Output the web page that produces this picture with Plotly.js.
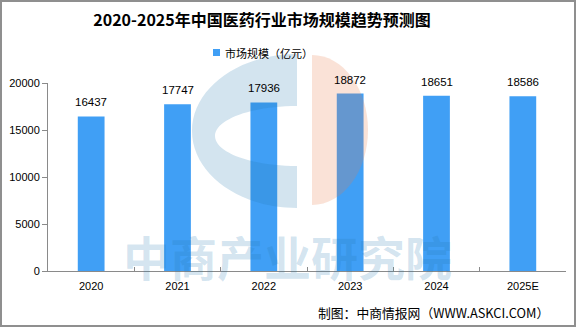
<!DOCTYPE html>
<html>
<head>
<meta charset="utf-8">
<script src="https://cdn.plot.ly/plotly-3.0.1.min.js"></script>
<style>
html,body{margin:0;padding:0;background:#fff;}
#wrap{position:relative;width:576px;height:327px;}
#chart{width:576px;height:327px;}
#frame{position:absolute;left:0;top:0;width:576px;height:327px;box-sizing:border-box;border:2px solid #8f8f8f;pointer-events:none;}
</style>
</head>
<body>
<div id="wrap"><div id="chart"></div><div id="frame"></div></div>
<script>
const years = ["2020", "2021", "2022", "2023", "2024", "2025E"];
const marketSize = [16437, 17747, 17936, 18872, 18651, 18586];
const yTicks = [0, 5000, 10000, 15000, 20000];
const seriesName = "市场规模（亿元）";
const chartTitle = "2020-2025年中国医药行业市场规模趋势预测图";
const sourceText = "制图：中商情报网（WWW.ASKCI.COM）";
const watermarkText = "中商产业研究院";

// plot area in pixels
const L = 48, R = 566, T = 83, B = 271;
const X = px => ((px - L) / (R - L)).toFixed(4);
const Y = py => ((B - py) / (B - T)).toFixed(4);
const P = (px, py) => X(px) + "," + Y(py);
const k = 0.5523;

function leftRing(cx, cy, rx, ry, cx2, cy2, rx2, ry2) {
  return "M" + P(cx, cy - ry) +
    " C" + P(cx - k * rx, cy - ry) + " " + P(cx - rx, cy - k * ry) + " " + P(cx - rx, cy) +
    " C" + P(cx - rx, cy + k * ry) + " " + P(cx - k * rx, cy + ry) + " " + P(cx, cy + ry) +
    " L" + P(cx2, cy2 + ry2) +
    " C" + P(cx2 - k * rx2, cy2 + ry2) + " " + P(cx2 - rx2, cy2 + k * ry2) + " " + P(cx2 - rx2, cy2) +
    " C" + P(cx2 - rx2, cy2 - k * ry2) + " " + P(cx2 - k * rx2, cy2 - ry2) + " " + P(cx2, cy2 - ry2) + " Z";
}
function rightHalf(cx, cy, rx, ry) {
  return "M" + P(cx, cy - ry) +
    " C" + P(cx + k * rx, cy - ry) + " " + P(cx + rx, cy - k * ry) + " " + P(cx + rx, cy) +
    " C" + P(cx + rx, cy + k * ry) + " " + P(cx + k * rx, cy + ry) + " " + P(cx, cy + ry) + " Z";
}

const shapes = [
  {type: "path", xref: "paper", yref: "paper", layer: "above",
   path: leftRing(297, 131, 105, 77, 297, 136, 82, 30),
   fillcolor: "rgba(35,120,175,0.2)", line: {width: 0}},
  {type: "path", xref: "paper", yref: "paper", layer: "above",
   path: rightHalf(312, 130, 56, 75),
   fillcolor: "rgba(232,123,73,0.22)", line: {width: 0}},
  // legend swatch
  {type: "rect", xref: "paper", yref: "paper", layer: "above",
   x0: X(213), x1: X(220), y0: Y(56), y1: Y(49),
   fillcolor: "#409ff5", line: {width: 0}}
];

const annotations = years.map((yr, i) => ({
  x: i, y: marketSize[i], xref: "x", yref: "y",
  text: String(marketSize[i]), showarrow: false,
  yanchor: "bottom", yshift: 6,
  font: {family: "Liberation Sans, Arial, sans-serif", size: 11.5, color: "#000"}
}));
annotations.push({
  xref: "paper", yref: "paper", x: X(287), y: Y(255), xanchor: "center", yanchor: "middle",
  text: watermarkText, showarrow: false,
  font: {family: "Noto Sans CJK SC", size: 47, color: "rgba(35,120,175,0.2)", weight: 700}
});
annotations.push({
  xref: "paper", yref: "paper", x: X(223), y: Y(52.5), xanchor: "left", yanchor: "middle",
  text: seriesName, showarrow: false,
  font: {family: "Noto Sans CJK SC", size: 11, color: "#000"}
});
annotations.push({
  xref: "paper", yref: "paper", x: X(551), y: Y(313), xanchor: "right", yanchor: "middle",
  text: sourceText, showarrow: false,
  font: {family: "Noto Sans CJK SC", size: 12.8, color: "#000"}
});

const trace = {
  type: "bar", x: years, y: marketSize, name: seriesName,
  marker: {color: "#409ff5"}, hoverinfo: "x+y"
};

const layout = {
  width: 576, height: 327,
  margin: {l: L, r: 576 - R, t: T, b: 327 - B, pad: 0},
  paper_bgcolor: "#fff", plot_bgcolor: "#fff",
  showlegend: false,
  bargap: 0.69,
  title: {text: chartTitle, x: 262 / 576, xref: "container", xanchor: "center",
          y: 1 - 20 / 327, yref: "container", yanchor: "middle",
          font: {family: "Noto Sans CJK SC", size: 16, color: "#000", weight: 700}},
  xaxis: {type: "category", range: [-0.5, years.length - 0.5], autorange: false,
          showline: true, linecolor: "#8a8a8a", linewidth: 1,
          ticks: "inside", tickson: "boundaries", ticklen: 4, tickcolor: "#8a8a8a",
          showgrid: false, zeroline: false, ticklabelstandoff: 5,
          tickfont: {family: "Liberation Sans, Arial, sans-serif", size: 11, color: "#000"}},
  yaxis: {range: [0, 20000], autorange: false, tickvals: yTicks, ticktext: yTicks.map(String),
          showline: true, linecolor: "#8a8a8a", linewidth: 1,
          ticks: "outside", ticklen: 5, tickcolor: "#8a8a8a",
          showgrid: false, zeroline: false,
          tickfont: {family: "Liberation Sans, Arial, sans-serif", size: 11, color: "#000"}},
  shapes: shapes,
  annotations: annotations
};

Plotly.newPlot("chart", [trace], layout, {staticPlot: true, displayModeBar: false});
</script>
</body>
</html>
